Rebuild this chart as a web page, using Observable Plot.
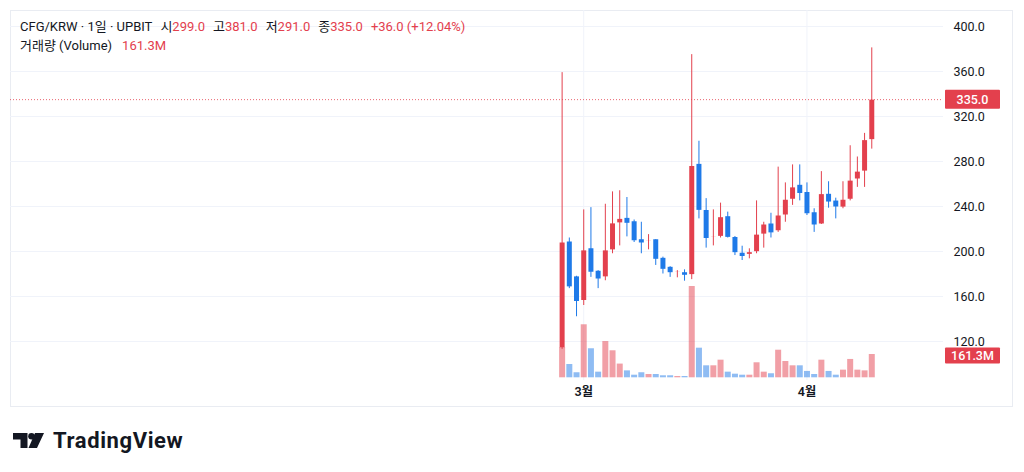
<!DOCTYPE html>
<html>
<head>
<meta charset="utf-8">
<script src="https://cdn.jsdelivr.net/npm/d3@7"></script>
<script src="https://cdn.jsdelivr.net/npm/@observablehq/plot@0.6"></script>
<style>
  body { margin: 0; background: #ffffff; }
  #wrap { position: relative; width: 1024px; height: 472px; font-family: Roboto, "Noto Sans CJK KR", sans-serif; color: #131722; overflow: hidden; }
  #frame { position: absolute; left: 10px; top: 10px; width: 1003px; height: 397px; border: 1px solid #e9ecf2; box-sizing: border-box; }
  .layer { position: absolute; left: 0; top: 0; }
  #header { position: absolute; left: 20px; top: 17px; font-size: 13px; line-height: 19px; white-space: nowrap; }
  .red { color: #e3404d; }
  .g { margin-left: 8px; }
  #logo { position: absolute; left: 13px; top: 428px; display: flex; align-items: center; }
  #logo span { font-family: Roboto, sans-serif; font-weight: 700; font-size: 22px; color: #131722; margin-left: 8px; letter-spacing: 0.6px; }
</style>
</head>
<body>
<div id="wrap">
  <div id="frame"></div>
  <div id="price" class="layer"></div>
  <div id="vol" class="layer"></div>
  <div id="header">
    <div><span>CFG/KRW · 1일 · UPBIT</span><span class="g">시</span><span class="red">299.0</span><span class="g">고</span><span class="red">381.0</span><span class="g">저</span><span class="red">291.0</span><span class="g">종</span><span class="red">335.0</span><span class="red g">+36.0 (+12.04%)</span></div>
    <div><span>거래량 (Volume)</span><span class="red" style="margin-left:10px">161.3M</span></div>
  </div>
  <div id="logo">
    <svg width="32" height="16" viewBox="0 0 32 16">
      <path d="M0 0H14.5V15H7.5V6.5H0Z" fill="#131722"/>
      <circle cx="18.5" cy="3.3" r="3.3" fill="#131722"/>
      <path d="M22 0H31L24 15H15.5Z" fill="#131722"/>
    </svg>
    <span>TradingView</span>
  </div>
</div>
<script>
// ---- data (CFG/KRW daily, UPBIT) ----
const dates = [
  "2025-02-26","2025-02-27","2025-02-28","2025-03-01","2025-03-02","2025-03-03","2025-03-04","2025-03-05",
  "2025-03-06","2025-03-07","2025-03-08","2025-03-09","2025-03-10","2025-03-11","2025-03-12","2025-03-13",
  "2025-03-14","2025-03-15","2025-03-16","2025-03-17","2025-03-18","2025-03-19","2025-03-20","2025-03-21",
  "2025-03-22","2025-03-23","2025-03-24","2025-03-25","2025-03-26","2025-03-27","2025-03-28","2025-03-29",
  "2025-03-30","2025-03-31","2025-04-01","2025-04-02","2025-04-03","2025-04-04","2025-04-05","2025-04-06",
  "2025-04-07","2025-04-08","2025-04-09","2025-04-10"
];
const opens  = [114,208,177,156,202,182,177,201,225,229,226,210,209,210,193.5,185.5,181,180.7,179,277,236,212,213,230.5,212,198,197,199.4,215,224,218,232,246,258.4,252,234,224,250.4,244.4,239,246,264,271,299];
const highs  = [359,212,178,237,239,183,242,253,254,248,228,226,215,210.5,195,186.5,183,183.7,375,298,247,237,243,235,213.3,204.7,202.4,245,226,234,275,261,277,277,261,238,271,262,247.4,262,294,284,305,381];
const lows   = [113,167,142,152,177,167,174,198,205,213,208,198,201.5,187.6,180,177,176.6,173.6,175,229,203,205,212,212,196.4,192,193.5,198,203,212,217,226,241,245,232,217,224,238.5,229,238,245,257,257,291];
const closes = [208,169,156,201,182,176,201,225,229,225.5,210,208,210,193.5,184.6,181.6,182,179.3,276,237,212,213,230.5,213,199.4,196,199.4,215,224,217,232,246,257,252,234,224,251,244.4,240,246,263,271,299,335];
const volumes = [210,92,35,367,201,39,251,187,95,48,18,35,23,23,14,14,9,9,632,205,83,83,122,39,25,18,18,104,39,28,191,113,83,83,44,23,122,44,18,53,127,53,48,161.3]; // millions
const priceTicks = [120,160,200,240,280,320,360,400];
const monthTicks = ["2025-03-01","2025-04-01"];
const monthLabels = ["3월","4월"];

// ---- build ----
const RED = "#e3404d", BLUE = "#1f7ae8", GRID = "#f0f3fa";
const parse = d3.utcParse("%Y-%m-%d");
const data = dates.map((d, i) => ({date: parse(d), open: opens[i], high: highs[i], low: lows[i], close: closes[i], volume: volumes[i]}));
const col = d => d.close >= d.open ? RED : BLUE;
const last = data[data.length - 1];
const mTicks = monthTicks.map(parse);
const xOpt = {type: "utc", domain: [new Date("2024-12-11T09:36Z"), new Date("2025-04-19T23:02Z")]};
const W = 1024, H = 415;
const font = 'Roboto, "Noto Sans CJK KR", sans-serif';

const price = Plot.plot({
  width: W, height: H, marginLeft: 10, marginRight: 81, marginTop: 10, marginBottom: 35,
  style: {background: "transparent", fontFamily: font, fontSize: "12.5px", color: "#131722"},
  x: xOpt,
  y: {domain: [120, 400], range: [341, 26]},
  marks: [
    Plot.gridY(priceTicks, {stroke: GRID, strokeOpacity: 1}),
    Plot.gridX(mTicks, {stroke: GRID, strokeOpacity: 1}),
    Plot.axisY(priceTicks, {anchor: "right", tickSize: 0, tickPadding: 10, tickFormat: d => d.toFixed(1), label: null}),
    Plot.axisX(mTicks, {anchor: "bottom", tickSize: 0, tickPadding: 7, fontWeight: 600, tickFormat: (d, i) => monthLabels[i], label: null}),
    Plot.ruleY([last.close], {stroke: RED, strokeDasharray: "1,2", strokeWidth: 1, strokeOpacity: 0.8}),
    Plot.ruleX(data, {x: "date", y1: "low", y2: "high", stroke: col, strokeWidth: 1}),
    Plot.ruleX(data, {x: "date", y1: "open", y2: "close", stroke: col, strokeWidth: 5, insetTop: -0.5, insetBottom: -0.5})
  ]
});
document.getElementById("price").appendChild(price);

const vol = Plot.plot({
  width: W, height: H, marginLeft: 10, marginRight: 81, marginTop: 10, marginBottom: 35,
  style: {background: "transparent", fontFamily: font},
  x: {...xOpt, axis: null},
  y: {domain: [0, 161.3], range: [377.3, 354], axis: null},
  marks: [
    Plot.ruleX(data, {x: "date", y1: 0, y2: "volume", stroke: col, strokeWidth: 6, strokeOpacity: 0.5})
  ]
});
document.getElementById("vol").appendChild(vol);

// price-scale labels (boxes on the right axis)
function tag(svgNode, yPix, h, text) {
  const g = d3.select(svgNode).append("g");
  const x0 = W - 81 + 2;
  g.append("rect").attr("x", x0).attr("y", yPix - h / 2).attr("width", 55).attr("height", h).attr("rx", 1).attr("fill", RED);
  g.append("text").attr("x", x0 + 27.5).attr("y", yPix).attr("dy", "0.35em").attr("text-anchor", "middle")
    .attr("fill", "#ffffff").attr("font-size", "12.5px").attr("font-weight", 500).attr("font-family", font).text(text);
}
tag(price, price.scale("y").apply(last.close), 19, last.close.toFixed(1));
tag(vol, vol.scale("y").apply(last.volume) + 1.5, 16, last.volume.toFixed(1) + "M");
</script>
</body>
</html>
